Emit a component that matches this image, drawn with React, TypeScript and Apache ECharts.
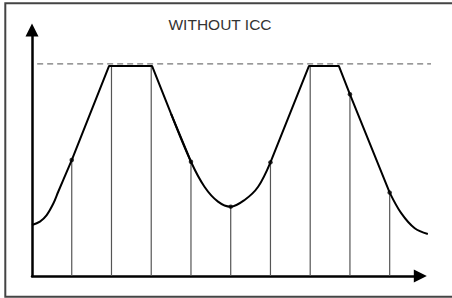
import React, { useEffect, useRef } from "react";
import * as echarts from "echarts";

// Signal trace (time in sample periods, amplitude with clip level = 100)
const signalX = [0, 0.2, 0.37, 0.54, 0.66, 1, 1.94, 3.02, 3.5, 4, 4.34, 4.68, 5, 5.35, 5.69, 6, 6.97, 7.72, 8, 9, 9.29, 9.63, 9.96];
const signalY = [24.3, 25.9, 29.0, 34.6, 40.1, 55.2, 100, 100, 77.2, 54.4, 42.5, 35.4, 33.0, 36.2, 42.5, 54.1, 100, 100, 86.5, 39.7, 29.9, 22.7, 20];
// index ranges (inclusive) of the trace, and whether each piece is curved
const segStart = [0, 5, 8, 15, 19];
const segEnd = [5, 9, 15, 19, 22];
const segSmooth = [true, false, true, false, true];

// Sampling instants and sampled values
const sampleX = [1, 2, 3, 4, 5, 6, 7, 8, 9];
const sampleY = [55.2, 100, 100, 54.4, 33.0, 54.1, 100, 86.5, 39.7];

// Clip reference level (dashed)
const refX = [0.13, 10.04];
const refY = [101, 101];

const titleText = "WITHOUT ICC";

export default function App() {
  const ref = useRef<HTMLDivElement>(null);
  useEffect(() => {
    if (!ref.current) return;
    const chart = echarts.init(ref.current, null, { renderer: "svg" });

    const signalSeries = segStart.map((s, i) => ({
      type: "line",
      xAxisIndex: 1,
      yAxisIndex: 1,
      data: signalX.slice(s, segEnd[i] + 1).map((x, k) => [x, signalY[s + k]]),
      smooth: segSmooth[i] ? 0.35 : false,
      symbol: "none",
      silent: true,
      lineStyle: { color: "#000", width: 2 },
      z: 5,
    }));

    const hiddenAxis = {
      type: "value",
      min: 0,
      show: false,
      splitLine: { show: false },
    };
    const arrowLine = {
      show: true,
      symbol: ["none", "triangle"],
      symbolSize: [13, 13],
      lineStyle: { color: "#000", width: 2.5 },
    };

    const option: any = {
      animation: false,
      backgroundColor: "#fff",
      grid: [
        { left: 32, top: 30, right: 31.7, bottom: 22 },
        { left: 32, top: 30, right: 18.6, bottom: 22 },
      ],
      xAxis: [
        {
          type: "value",
          gridIndex: 0,
          min: 0,
          max: 9.77,
          axisLine: arrowLine,
          axisTick: { show: false },
          axisLabel: { show: false },
          splitLine: { show: false },
        },
        { ...hiddenAxis, gridIndex: 1, max: 10.1 },
      ],
      yAxis: [
        {
          type: "value",
          gridIndex: 0,
          min: 0,
          max: 117.1,
          axisLine: arrowLine,
          axisTick: { show: false },
          axisLabel: { show: false },
          splitLine: { show: false },
        },
        { ...hiddenAxis, gridIndex: 1, max: 117.1 },
      ],
      graphic: [
        {
          type: "rect",
          shape: { x: 5.3, y: 3.3, width: 470, height: 293.4 },
          style: { fill: "none", stroke: "#444", lineWidth: 2 },
          silent: true,
        },
        {
          type: "text",
          x: 220,
          y: 24,
          style: {
            text: titleText,
            fontFamily: "Liberation Sans, Arial, sans-serif",
            fontSize: 15.5,
            fill: "#333",
            align: "center",
            verticalAlign: "middle",
          },
          silent: true,
        },
      ],
      series: [
        {
          type: "line",
          xAxisIndex: 1,
          yAxisIndex: 1,
          data: refX.map((x, i) => [x, refY[i]]),
          symbol: "none",
          silent: true,
          lineStyle: { color: "#777", width: 1.2, type: [6, 4] },
          z: 2,
        },
        {
          type: "custom",
          xAxisIndex: 1,
          yAxisIndex: 1,
          data: sampleX.map((x, i) => [x, sampleY[i]]),
          encode: { x: 0, y: 1 },
          silent: true,
          z: 3,
          renderItem: (_params: any, api: any) => {
            const x = api.value(0);
            const y = api.value(1);
            const top = api.coord([x, y]);
            const bottom = api.coord([x, 0]);
            return {
              type: "line",
              shape: { x1: top[0], y1: top[1], x2: bottom[0], y2: bottom[1] },
              style: { stroke: "#555", lineWidth: 1.2 },
            };
          },
        },
        ...signalSeries,
        {
          type: "scatter",
          xAxisIndex: 1,
          yAxisIndex: 1,
          data: sampleX
            .map((x, i) => [x, sampleY[i]])
            .filter((p) => p[1] < 100),
          symbol: "circle",
          symbolSize: 4.5,
          itemStyle: { color: "#000" },
          silent: true,
          z: 6,
        },
      ],
    };
    chart.setOption(option);
    return () => chart.dispose();
  }, []);
  return (
    <div
      ref={ref}
      style={{ position: "fixed", left: 0, top: 0, width: 452, height: 298 }}
    />
  );
}
